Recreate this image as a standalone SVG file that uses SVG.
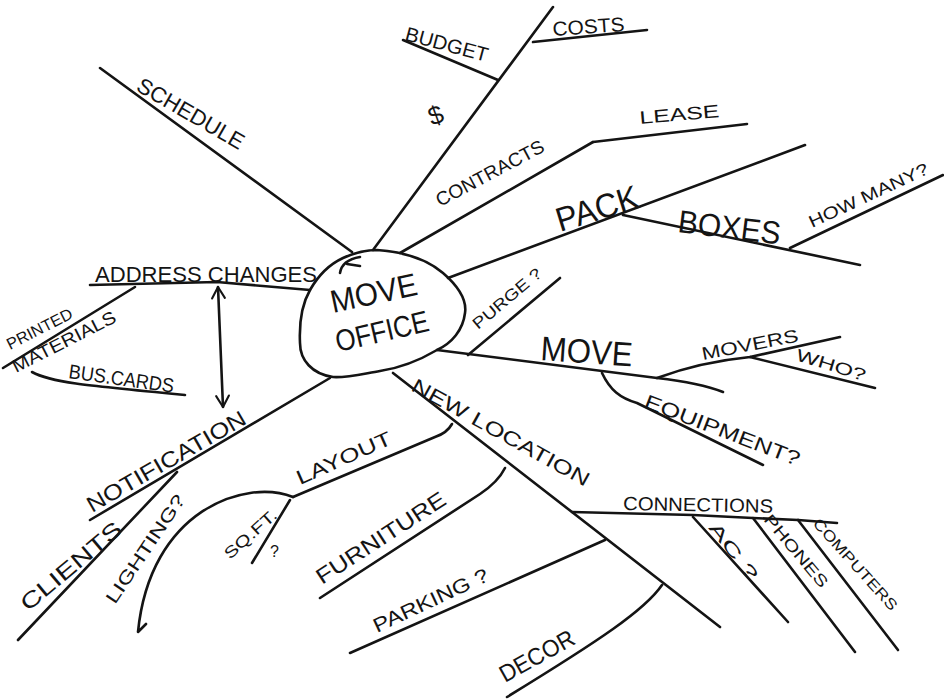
<svg xmlns="http://www.w3.org/2000/svg" width="944" height="700" viewBox="0 0 944 700">
<defs>
<style>
.ln{fill:none;stroke:#141414;stroke-width:2.6;stroke-linecap:round;stroke-linejoin:round}
.t{font-family:"Liberation Sans","DejaVu Sans",sans-serif;fill:#141414;font-weight:normal}
</style>
<marker id="chev" viewBox="0 0 20 20" refX="18" refY="10" markerWidth="16" markerHeight="16" markerUnits="userSpaceOnUse" orient="auto-start-reverse">
<path d="M4,2 L18,10 L4,18" fill="none" stroke="#141414" stroke-width="2.6" stroke-linecap="round" stroke-linejoin="round"/>
</marker>
</defs>
<rect width="944" height="700" fill="#ffffff"/>

<g id="connectors">
<path class="ln" d="M100,68 L352,252"/>
<path class="ln" d="M373,250 L553,7"/>
<path class="ln" d="M403,40 L498,80"/>
<path class="ln" d="M533,42 L647,30"/>
<path class="ln" d="M400,253 L593,142"/>
<path class="ln" d="M593,142 L747,124"/>
<path class="ln" d="M448,278 L805,145"/>
<path class="ln" d="M623,215 L860,265"/>
<path class="ln" d="M790,248 L943,175"/>
<path class="ln" d="M90,285 L217,282 L310,290"/>
<path class="ln" d="M218,287 L223,407" marker-start="url(#chev)" marker-end="url(#chev)"/>
<path class="ln" d="M135,287 L3,368"/>
<path class="ln" d="M32,372 C50,382 80,385 185,395"/>
<path class="ln" d="M330,378 L90,520"/>
<path class="ln" d="M177,472 L18,640"/>
<path class="ln" d="M293,497 C245,478 150,510 138,632 L146,624"/>
<path class="ln" d="M293,497 L435,437 Q447,433 452,424"/>
<path class="ln" d="M290,500 L252,563"/>
<path class="ln" d="M320,598 L480,494 Q498,482 505,468"/>
<path class="ln" d="M350,653 L605,540"/>
<path class="ln" d="M393,373 L720,627"/>
<path class="ln" d="M572,512 L693,515 L753,518 L798,520 L837,523"/>
<path class="ln" d="M693,517 L788,622"/>
<path class="ln" d="M753,518 L855,652"/>
<path class="ln" d="M798,520 L898,650"/>
<path class="ln" d="M662,585 C645,610 600,640 507,697"/>
<path class="ln" d="M437,350 L657,378 Q700,383 723,392"/>
<path class="ln" d="M468,355 L560,278"/>
<path class="ln" d="M657,378 Q700,362 750,357 L840,337"/>
<path class="ln" d="M750,357 L875,388"/>
<path class="ln" d="M602,373 C610,390 620,398 637,403 L763,465"/>
</g>

<g id="move-office">
<path class="ln" d="M377,250 C405,252 428,260 443,273 C458,286 467,300 465,313 C463,330 452,343 437,350 C420,360 400,368 380,371 C362,374 346,378 333,377 C312,374 300,360 300,343 C299,322 302,304 310,290 C318,276 330,264 343,258 C354,253 365,250 377,250 Z"/>
<path class="ln" d="M340,273 Q342,260 360,257 M347,264 L360,266" stroke-width="2"/>
<text class="t" font-size="32" transform="translate(333,313) rotate(-12)" textLength="88" lengthAdjust="spacingAndGlyphs">MOVE</text>
<text class="t" font-size="30" transform="translate(338,352) rotate(-13)" textLength="95" lengthAdjust="spacingAndGlyphs">OFFICE</text>
</g>

<g id="schedule"><text class="t" font-size="22" transform="translate(135,90) rotate(30)" textLength="120" lengthAdjust="spacingAndGlyphs">SCHEDULE</text></g>
<g id="budget"><text class="t" font-size="20" transform="translate(404,40) rotate(15)" textLength="85" lengthAdjust="spacingAndGlyphs">BUDGET</text>
<text class="t" font-size="26" transform="translate(432,126) rotate(-20)">$</text></g>
<g id="costs"><text class="t" font-size="20" transform="translate(553,36) rotate(-4)" textLength="72" lengthAdjust="spacingAndGlyphs">COSTS</text></g>
<g id="contracts"><text class="t" font-size="19" transform="translate(440,207) rotate(-28)" textLength="120" lengthAdjust="spacingAndGlyphs">CONTRACTS</text></g>
<g id="lease"><text class="t" font-size="18" transform="translate(640,124) rotate(-5)" textLength="80" lengthAdjust="spacingAndGlyphs">LEASE</text></g>
<g id="pack"><text class="t" font-size="34" transform="translate(560,232) rotate(-17)" textLength="85" lengthAdjust="spacingAndGlyphs">PACK</text></g>
<g id="boxes"><text class="t" font-size="32" transform="translate(677,232) rotate(7)" textLength="103" lengthAdjust="spacingAndGlyphs">BOXES</text></g>
<g id="how-many"><text class="t" font-size="17" transform="translate(812,228) rotate(-25)" textLength="130" lengthAdjust="spacingAndGlyphs">HOW MANY?</text></g>
<g id="address-changes"><text class="t" font-size="22" transform="translate(95,282)" textLength="222" lengthAdjust="spacingAndGlyphs">ADDRESS  CHANGES</text></g>
<g id="printed-materials">
<text class="t" font-size="16" transform="translate(10,350) rotate(-27)" textLength="72" lengthAdjust="spacingAndGlyphs">PRINTED</text>
<text class="t" font-size="18" transform="translate(16,373) rotate(-27)" textLength="114" lengthAdjust="spacingAndGlyphs">MATERIALS</text>
</g>
<g id="bus-cards"><text class="t" font-size="20" transform="translate(68,378) rotate(8)" textLength="106" lengthAdjust="spacingAndGlyphs">BUS.CARDS</text></g>
<g id="notification"><text class="t" font-size="22" transform="translate(92,513) rotate(-30)" textLength="180" lengthAdjust="spacingAndGlyphs">NOTIFICATION</text></g>
<g id="clients"><text class="t" font-size="22" transform="translate(28,612) rotate(-40)" textLength="125" lengthAdjust="spacingAndGlyphs">CLIENTS</text></g>
<g id="lighting"><text class="t" font-size="18" transform="translate(115,605) rotate(-56)" textLength="127" lengthAdjust="spacingAndGlyphs">LIGHTING?</text></g>
<g id="layout"><text class="t" font-size="20" transform="translate(300,485) rotate(-24)" textLength="102" lengthAdjust="spacingAndGlyphs">LAYOUT</text></g>
<g id="sq-ft"><text class="t" font-size="16" transform="translate(230,560) rotate(-42)" textLength="65" lengthAdjust="spacingAndGlyphs">SQ.FT.</text>
<text class="t" font-size="16" transform="translate(270,557)">?</text></g>
<g id="furniture"><text class="t" font-size="22" transform="translate(322,585) rotate(-33)" textLength="150" lengthAdjust="spacingAndGlyphs">FURNITURE</text></g>
<g id="parking"><text class="t" font-size="20" transform="translate(377,633) rotate(-25)" textLength="125" lengthAdjust="spacingAndGlyphs">PARKING ?</text></g>
<g id="new-location"><text class="t" font-size="20" transform="translate(410,390) rotate(29)" textLength="200" lengthAdjust="spacingAndGlyphs">NEW LOCATION</text></g>
<g id="connections"><text class="t" font-size="19" transform="translate(623,510) rotate(1)" textLength="150" lengthAdjust="spacingAndGlyphs">CONNECTIONS</text></g>
<g id="ac"><text class="t" font-size="17" transform="translate(708,528) rotate(52)" textLength="68" lengthAdjust="spacingAndGlyphs">AC ?</text></g>
<g id="phones"><text class="t" font-size="16" transform="translate(763,520) rotate(50)" textLength="90" lengthAdjust="spacingAndGlyphs">PHONES</text></g>
<g id="computers"><text class="t" font-size="15" transform="translate(812,524) rotate(48)" textLength="118" lengthAdjust="spacingAndGlyphs">COMPUTERS</text></g>
<g id="decor"><text class="t" font-size="24" transform="translate(505,683) rotate(-29)" textLength="82" lengthAdjust="spacingAndGlyphs">DECOR</text></g>
<g id="purge"><text class="t" font-size="16" transform="translate(478,330) rotate(-40)" textLength="85" lengthAdjust="spacingAndGlyphs">PURGE ?</text></g>
<g id="move"><text class="t" font-size="34" transform="translate(540,360) rotate(4)" textLength="92" lengthAdjust="spacingAndGlyphs">MOVE</text></g>
<g id="movers"><text class="t" font-size="18" transform="translate(703,360) rotate(-11)" textLength="98" lengthAdjust="spacingAndGlyphs">MOVERS</text></g>
<g id="who"><text class="t" font-size="17" transform="translate(795,360) rotate(17)" textLength="72" lengthAdjust="spacingAndGlyphs">WHO?</text></g>
<g id="equipment"><text class="t" font-size="20" transform="translate(643,407) rotate(21)" textLength="165" lengthAdjust="spacingAndGlyphs">EQUIPMENT?</text></g>
</svg>
